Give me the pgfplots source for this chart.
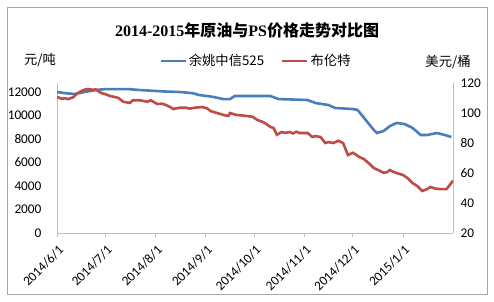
\documentclass[border=0pt]{standalone}
\usepackage{pgfplots}
\pgfplotsset{compat=1.18}
\usepackage{fontspec}
\setmainfont{Carlito}
\newfontfamily\cjk{Noto Sans CJK SC}
\newfontfamily\serifb{Liberation Serif}
\definecolor{xlblue}{HTML}{4A7EBB}
\definecolor{xlred}{HTML}{BE4B48}
\definecolor{axgray}{HTML}{BFBFBF}
\begin{document}
\begin{tikzpicture}[x=1pt,y=1pt]
\useasboundingbox (0,0) rectangle (494,301);
\fill[white] (0,0) rectangle (494,301);
\draw[color=gray!70, line width=0.8pt] (7,7) rectangle (487,294);
\node[font=\fontsize{16}{19}\selectfont] at (247,271) {{\serifb\bfseries 2014-2015}{\cjk\bfseries 年原油与}{\serifb\bfseries PS}{\cjk\bfseries 价格走势对比图}};
\node[font=\cjk\fontsize{13.3}{16}\selectfont] at (40,241) {元/吨};
\node[font=\cjk\fontsize{13.3}{16}\selectfont] at (448,239) {美元/桶};
\begin{axis}[
  at={(57pt,68pt)}, anchor=south west, width=396pt, height=150pt, scale only axis,
  xmin=0, xmax=245, ymin=0, ymax=12766,
  scaled y ticks=false,
  axis x line*=bottom, axis y line*=left,
  axis line style={draw=axgray, line width=0.8pt, -},
  xtick={0,30,61,92,122,153,183,214},
  xticklabels={2014/6/1,2014/7/1,2014/8/1,2014/9/1,2014/10/1,2014/11/1,2014/12/1,2015/1/1},
  ytick={0,2000,4000,6000,8000,10000,12000},
  yticklabels={0,2000,4000,6000,8000,10000,12000},
  x tick style={draw=axgray, line width=0.8pt},
  y tick style={draw=none},
  tick align=outside, major tick length=4pt,
  tick label style={font=\fontsize{13.3}{16}\selectfont},
  xticklabel style={xshift=5pt, yshift=-10pt, rotate=45, anchor=east, inner sep=1pt},
  yticklabel style={xshift=-8pt},
  legend style={at={(0.5025,1.147)}, anchor=center, draw=none, fill=none,
    legend columns=2, font=\cjk\fontsize{13.3}{16}\selectfont,
    /tikz/every even column/.append style={column sep=15pt}},
  legend image code/.code={\draw[#1, line width=2.5pt] (0pt,0pt) -- (25pt,0pt);},
]
\addplot[xlblue, line width=2.6pt] coordinates {
(0,12000)(5,11900)(11,11830)(17,12000)(24,12170)(30,12250)(44,12250)(51,12170)
(67,12040)(76,12000)(84,11900)(88,11740)(95,11620)(103,11400)(107,11400)(110,11660)
(132,11660)(137,11400)(155,11320)(160,11060)(168,10890)(172,10640)(183,10550)(186,10470)
(191,9620)(196,8770)(198,8510)(202,8680)(206,9100)(210,9360)(215,9280)(220,8940)
(225,8340)(229,8340)(235,8510)(240,8340)(244,8170)
};
\addlegendentry{余姚中信525}
\addlegendimage{xlred, line width=2.5pt}
\addlegendentry{布伦特}
\end{axis}
\begin{axis}[
  at={(57pt,68pt)}, anchor=south west, width=396pt, height=150pt, scale only axis,
  xmin=0, xmax=245, ymin=20, ymax=120,
  axis x line=none, axis y line*=right,
  axis line style={draw=axgray, line width=0.8pt, -},
  ytick={20,40,60,80,100,120},
  yticklabels={20,40,60,80,100,120},
  y tick style={draw=none},
  tick label style={font=\fontsize{13.3}{16}\selectfont},
  yticklabel style={xshift=4pt},
]
\addplot[xlred, line width=2.6pt] coordinates {
(0,110.7)(3,109.5)(5,109.8)(7,109.3)(10,110.5)(12,112.5)(14,114)(17,115.5)(19,116)
(22,115.5)(24,115.7)(27,113.5)(30,112.5)(33,111.3)(36,110.6)(38,110)(41,107.5)(45,106.7)
(47,108.5)(51,108.5)(54,107.9)(56,107.5)(58,108.5)(62,106)(65,106.2)(67,105.5)(70,104)
(72,102.7)(76,103.5)(80,103.5)(82,102.9)(85,103.5)(90,104)(93,103)(95,101.3)(99,100)
(103,98.7)(106,98)(107,100)(111,98.7)(116,98.2)(121,97.5)(124,95.3)(127,94.2)(129,93)
(132,90.7)(134,90)(136,85.5)(139,87.3)(141,86.8)(144,87.3)(146,86.4)(148,87.5)(150,86.7)
(155,86.7)(158,84)(160,84.6)(163,84)(166,80)(168,80.6)(171,80)(174,81.5)(177,80)(180,72)
(183,73.5)(185,72.2)(187,70.7)(190,69.2)(192,67.3)(194,65.5)(196,63.3)(200,61.3)(202,60.2)
(204,60.5)(206,62)(208,60.8)(210,60)(214,58.7)(217,56.5)(220,53.3)(223,51.2)(226,48)
(229,49.3)(231,50.7)(234,49.6)(237,49.3)(241,49.3)(243,52)(245,55)
};
\end{axis}
\end{tikzpicture}
\end{document}
